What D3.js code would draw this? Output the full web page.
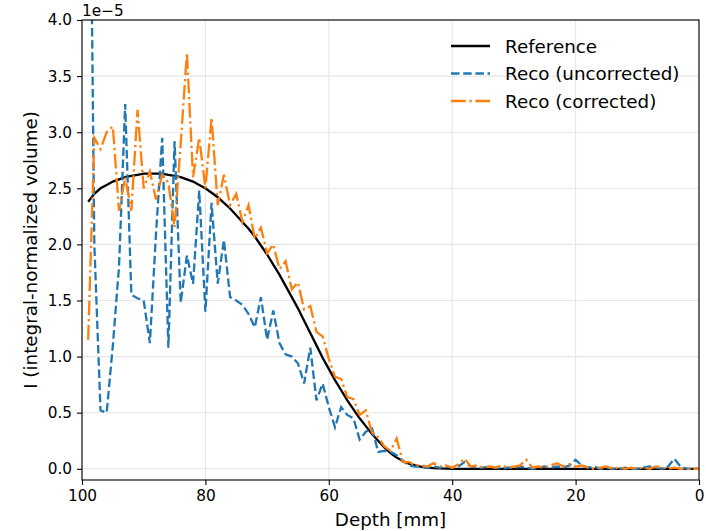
<!DOCTYPE html>
<html>
<head>
<meta charset="utf-8">
<script src="https://cdn.jsdelivr.net/npm/d3@7"></script>
<style>
  body { margin: 0; background: white; }
  text { font-family: "DejaVu Sans", sans-serif; }
</style>
</head>
<body>
<div id="graph"></div>
<script>
// depth in mm, one entry per sample
const depth = [99, 98, 97, 96, 95, 94, 93, 92, 91, 90, 89, 88, 87, 86, 85, 84, 83, 82, 81, 80,
  79, 78, 77, 76, 75, 74, 73, 72, 71, 70, 69, 68, 67, 66, 65, 64, 63, 62, 61, 60,
  59, 58, 57, 56, 55, 54, 53, 52, 51, 50, 49, 48, 47, 46, 45, 44, 43, 42, 41, 40,
  39, 38, 37, 36, 35, 34, 33, 32, 31, 30, 29, 28, 27, 26, 25, 24, 23, 22, 21, 20,
  19, 18, 17, 16, 15, 14, 13, 12, 11, 10, 9, 8, 7, 6, 5, 4, 3, 2, 1, 0];

// values in units of 1e-5
const reference = [2.38, 2.45, 2.50, 2.53, 2.56, 2.58, 2.60, 2.61, 2.62, 2.63, 2.63, 2.63, 2.63, 2.62, 2.61, 2.60, 2.58, 2.56, 2.53, 2.50,
  2.46, 2.42, 2.37, 2.32, 2.26, 2.20, 2.14, 2.07, 1.99, 1.91, 1.82, 1.73, 1.63, 1.53, 1.43, 1.32, 1.21, 1.10, 0.99, 0.89,
  0.79, 0.70, 0.61, 0.53, 0.45, 0.38, 0.31, 0.25, 0.19, 0.14, 0.10, 0.07, 0.045, 0.03, 0.018, 0.01, 0.005, 0.003, 0.001, 0,
  0, 0, 0, 0, 0, 0, 0, 0, 0, 0, 0, 0, 0, 0, 0, 0, 0, 0, 0, 0,
  0, 0, 0, 0, 0, 0, 0, 0, 0, 0, 0, 0, 0, 0, 0, 0, 0, 0, 0, 0];

const uncorrected = [7.3, 2.0, 0.52, 0.50, 1.10, 1.80, 3.25, 1.55, 1.52, 1.50, 1.12, 2.10, 2.95, 1.08, 2.92, 1.48, 1.90, 1.65, 2.48, 1.40,
  2.37, 1.65, 2.04, 1.53, 1.50, 1.46, 1.38, 1.26, 1.53, 1.15, 1.41, 1.12, 1.02, 1.00, 0.94, 0.76, 1.08, 0.61, 0.76, 0.55,
  0.37, 0.55, 0.48, 0.45, 0.26, 0.33, 0.36, 0.15, 0.16, 0.15, 0.12, 0.07, 0.03, 0.02, 0.02, 0.01, 0.02, 0.01, 0.02, 0.01,
  0.02, 0.06, 0.02, 0.01, 0.01, 0.02, 0.01, 0.00, 0.01, 0.01, 0.02, 0.01, 0.00, 0.01, 0.02, 0.01, 0.02, 0.01, 0.03, 0.08,
  0.03, 0.01, 0.02, 0.00, 0.01, 0.00, 0.00, 0.01, 0.00, 0.00, 0.01, 0.02, 0.01, 0.00, 0.02, 0.09, 0.02, 0.00, 0.00, 0.00];

const corrected = [1.15, 2.95, 2.85, 3.00, 3.05, 2.30, 2.60, 2.30, 3.20, 2.50, 2.65, 2.40, 2.62, 2.55, 2.15, 2.90, 3.71, 2.60, 2.95, 2.50,
  3.13, 2.35, 2.62, 2.35, 2.45, 2.20, 2.35, 2.05, 2.15, 1.92, 2.00, 1.78, 1.85, 1.60, 1.66, 1.42, 1.45, 1.22, 1.18, 0.98,
  0.82, 0.80, 0.64, 0.62, 0.48, 0.52, 0.32, 0.28, 0.20, 0.16, 0.27, 0.06, 0.06, 0.03, 0.03, 0.02, 0.05, 0.02, 0.03, 0.01,
  0.04, 0.09, 0.02, 0.03, 0.01, 0.02, 0.01, 0.03, 0.01, 0.02, 0.03, 0.08, 0.01, 0.02, 0.01, 0.03, 0.05, 0.02, 0.04, 0.02,
  0.03, 0.01, 0.00, 0.01, 0.02, 0.00, 0.01, 0.00, 0.01, 0.00, 0.01, 0.00, 0.02, 0.01, 0.00, 0.01, 0.00, 0.00, 0.00, 0.00];

const xTicks = [100, 80, 60, 40, 20, 0];
const yTicks = [0.0, 0.5, 1.0, 1.5, 2.0, 2.5, 3.0, 3.5, 4.0];
const seriesNames = ["Reference", "Reco (uncorrected)", "Reco (corrected)"];

const width = 706;
const height = 531;
const mLeft = 82, mRight = 699, mTop = 20, mBottom = 480;

let svg = d3
  .select("div#graph")
  .append("svg")
  .attr("width", width)
  .attr("height", height)
  .style("background-color", "white");

let xScale = d3.scaleLinear().domain([100, 0]).range([mLeft, mRight]);
let yScale = d3.scaleLinear().domain([-0.1, 4.0]).range([mBottom, mTop]);

// grid
svg.append("g")
  .selectAll("line")
  .data(xTicks)
  .enter()
  .append("line")
  .attr("x1", (d) => xScale(d))
  .attr("x2", (d) => xScale(d))
  .attr("y1", mTop)
  .attr("y2", mBottom)
  .attr("stroke", "#e6e6e6")
  .attr("stroke-width", 1.1);
svg.append("g")
  .selectAll("line")
  .data(yTicks)
  .enter()
  .append("line")
  .attr("x1", mLeft)
  .attr("x2", mRight)
  .attr("y1", (d) => yScale(d))
  .attr("y2", (d) => yScale(d))
  .attr("stroke", "#e6e6e6")
  .attr("stroke-width", 1.1);

svg.append("clipPath")
  .attr("id", "plot-clip")
  .append("rect")
  .attr("x", mLeft)
  .attr("y", mTop)
  .attr("width", mRight - mLeft)
  .attr("height", mBottom - mTop);

let lineFor = (vals) =>
  d3.line()
    .x((d, i) => xScale(depth[i]))
    .y((d) => yScale(d))(vals);

let styles = [
  { vals: reference, color: "#000000", dash: null },
  { vals: uncorrected, color: "#1f77b4", dash: "8.5,3.7" },
  { vals: corrected, color: "#ff7f0e", dash: "14.7,3.7,2.3,3.7" },
];

let plot = svg.append("g").attr("clip-path", "url(#plot-clip)");
styles.forEach((s) => {
  plot.append("path")
    .attr("d", lineFor(s.vals))
    .attr("fill", "none")
    .attr("stroke", s.color)
    .attr("stroke-width", 2.3)
    .attr("stroke-dasharray", s.dash);
});

// axes
let xAxis = d3.axisBottom(xScale).tickValues(xTicks).tickSize(5).tickPadding(5).tickFormat(d3.format("d"));
let gX = svg.append("g").attr("transform", "translate(0," + mBottom + ")").call(xAxis);
let yAxis = d3.axisLeft(yScale).tickValues(yTicks).tickSize(5).tickPadding(5).tickFormat(d3.format(".1f"));
let gY = svg.append("g").attr("transform", "translate(" + mLeft + ",0)").call(yAxis);
[gX, gY].forEach((g) => {
  g.select(".domain").remove();
  g.selectAll(".tick line").attr("stroke", "#000").attr("stroke-width", 1.1);
  g.selectAll(".tick text")
    .attr("fill", "#000")
    .style("font-size", "15.3px")
    .style("font-family", "DejaVu Sans");
});

// frame
svg.append("rect")
  .attr("x", mLeft)
  .attr("y", mTop)
  .attr("width", mRight - mLeft)
  .attr("height", mBottom - mTop)
  .attr("fill", "none")
  .attr("stroke", "#000")
  .attr("stroke-width", 1.1);

// offset text
svg.append("text")
  .attr("x", mLeft)
  .attr("y", 16)
  .style("font-size", "15.3px")
  .text("1e\u22125");

// labels
svg.append("text")
  .attr("x", (mLeft + mRight) / 2)
  .attr("y", 526)
  .attr("text-anchor", "middle")
  .style("font-size", "18.3px")
  .text("Depth [mm]");
svg.append("text")
  .attr("transform", "translate(37," + (mTop + mBottom) / 2 + ") rotate(-90)")
  .attr("text-anchor", "middle")
  .style("font-size", "18.3px")
  .text("I (integral-normalized volume)");

// legend (no frame)
let legend = svg.append("g");
styles.forEach((s, i) => {
  let cy = 46 + i * 27.5;
  legend.append("line")
    .attr("x1", 451)
    .attr("x2", 490)
    .attr("y1", cy)
    .attr("y2", cy)
    .attr("stroke", s.color)
    .attr("stroke-width", 2.3)
    .attr("stroke-dasharray", s.dash);
  legend.append("text")
    .attr("x", 505)
    .attr("y", cy + 6.5)
    .style("font-size", "18.3px")
    .text(seriesNames[i]);
});
</script>
</body>
</html>
